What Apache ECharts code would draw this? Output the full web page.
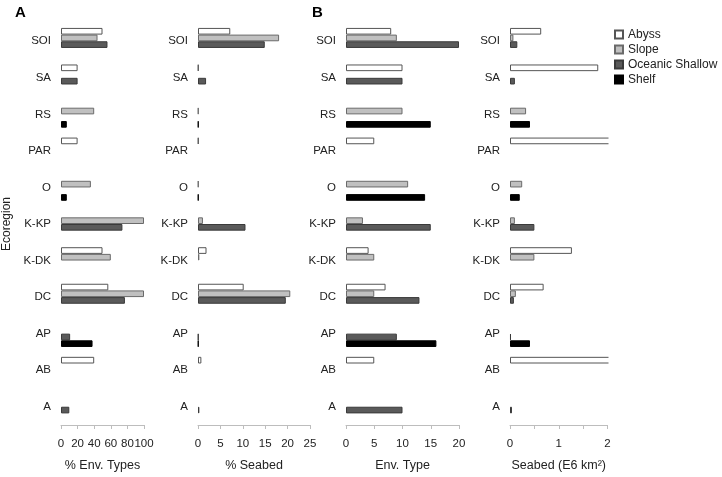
<!DOCTYPE html>
<html><head><meta charset="utf-8">
<script src="https://cdn.jsdelivr.net/npm/echarts@6/dist/echarts.min.js"></script>
<style>html,body{margin:0;padding:0;background:#fff}#c{width:722px;height:477px}</style>
</head><body><div id="c"></div>
<script>
// Categories top to bottom
var categories = ['SOI','SA','RS','PAR','O','K-KP','K-DK','DC','AP','AB','A'];
var seriesNames = ['Abyss','Slope','Oceanic Shallow','Shelf'];

// Panel A1: % Env. Types
var envPctAbyss   = [50, 20, null, 20, null, null, 50, 57, null, 40, null];
var envPctSlope   = [44, null, 40, null, 36, 100, 60, 100, null, null, null];
var envPctOcean   = [56, 20, null, null, null, 74, null, 77, 11, null, 10];
var envPctShelf   = [null, null, 7, null, 7, null, null, null, 38, null, null];

// Panel A2: % Seabed
var seaPctAbyss   = [7.2, 0.1, null, 0.1, null, null, 1.9, 10.2, null, 0.75, null];
var seaPctSlope   = [18.1, null, 0.1, null, 0.1, 1.1, 0.3, 20.6, null, null, null];
var seaPctOcean   = [14.9, 1.8, null, null, null, 10.6, null, 19.6, 0.1, null, 0.3];
var seaPctShelf   = [null, null, 0.1, null, 0.1, null, null, null, 0.1, null, null];

// Panel B1: Env. Type counts
var envCntAbyss   = [8, 10, null, 5, null, null, 4, 7, null, 5, null];
var envCntSlope   = [9, null, 10, null, 11, 3, 5, 5, null, null, null];
var envCntOcean   = [20, 10, null, null, null, 15, null, 13, 9, null, 10];
var envCntShelf   = [null, null, 15, null, 14, null, null, null, 16, null, null];

// Panel B2: Seabed (E6 km2)
var seaAreaAbyss  = [0.64, 1.81, null, 3.0, null, null, 1.27, 0.69, null, 2.6, null];
var seaAreaSlope  = [0.07, null, 0.33, null, 0.25, 0.1, 0.5, 0.12, null, null, null];
var seaAreaOcean  = [0.15, 0.1, null, null, null, 0.5, null, 0.08, 0.02, null, 0.04];
var seaAreaShelf  = [null, null, 0.41, null, 0.2, null, null, null, 0.41, null, null];

var xTicksA1 = {min:0, max:100, interval:20};
var xTicksA2 = {min:0, max:25, interval:5};
var xTicksB1 = {min:0, max:20, interval:5};
var xTicksB2 = {min:0, max:2, interval:0.5};

var fills = ['#ffffff','#c0c0c0','#5a5a5a','#000000'];
var borders = ['#555555','#6a6a6a','#3a3a3a','#000000'];

var panels = [
  {left:61, width:83, ticks:xTicksA1, name:'% Env. Types', data:[envPctAbyss,envPctSlope,envPctOcean,envPctShelf]},
  {left:198, width:112, ticks:xTicksA2, name:'% Seabed', data:[seaPctAbyss,seaPctSlope,seaPctOcean,seaPctShelf]},
  {left:346, width:113, ticks:xTicksB1, name:'Env. Type', data:[envCntAbyss,envCntSlope,envCntOcean,envCntShelf]},
  {left:510, width:97.5, ticks:xTicksB2, name:'Seabed (E6 km\u00B2)', data:[seaAreaAbyss,seaAreaSlope,seaAreaOcean,seaAreaShelf], labelInt:1, open:true}
];

var FONT = 'Liberation Sans, Arial, sans-serif';
var grids=[], xAxes=[], yAxes=[], series=[];
panels.forEach(function(p,i){
  grids.push({left:p.left, width:p.width, top:23, height:403.5});
  xAxes.push({
    type:'value', gridIndex:i, min:p.ticks.min, max:p.ticks.max, interval:p.ticks.interval,
    name:p.name, nameLocation:'middle', nameGap:34,
    nameTextStyle:{fontFamily:FONT, fontSize:12.5, color:'#222'},
    axisLine:{show:true, lineStyle:{color:'#bdbdbd', width:1}},
    axisTick:{show:true, length:4, lineStyle:{color:'#bdbdbd'}},
    splitLine:{show:false},
    axisLabel:{fontFamily:FONT, fontSize:11.5, color:'#222', margin:13, hideOverlap:false,
      interval: p.labelInt ? p.labelInt : 0,
      formatter: p.labelInt ? function(v){ return (Math.abs(v-Math.round(v))<1e-9)? String(Math.round(v)) : ''; } : null}
  });
  yAxes.push({
    type:'category', gridIndex:i, data:categories, inverse:true,
    name: i===0 ? 'Ecoregion' : '', nameLocation:'middle', nameGap:48,
    nameTextStyle:{fontFamily:FONT, fontSize:12, color:'#222'},
    axisLine:{show:false}, axisTick:{show:false},
    axisLabel:{fontFamily:FONT, fontSize:11.5, color:'#222', margin:10}
  });
  p.data.forEach(function(arr,k){
    series.push({
      type:'bar', name:seriesNames[k], xAxisIndex:i, yAxisIndex:i,
      data:arr, barGap:'0%', barCategoryGap:'27%', clip: !p.open,
      itemStyle:{color:fills[k], borderColor:borders[k], borderWidth:1},
      emphasis:{disabled:true}, animation:false
    });
  });
});

var chart = echarts.init(document.getElementById('c'), null, {renderer:'canvas'});
chart.setOption({
  animation:false,
  backgroundColor:'#fff',
  title:[
    {text:'A', left:10, top:0, textStyle:{fontFamily:FONT, fontSize:15, fontWeight:'bold', color:'#000'}},
    {text:'B', left:307, top:0, textStyle:{fontFamily:FONT, fontSize:15, fontWeight:'bold', color:'#000'}}
  ],
  legend:{
    data:seriesNames, orient:'vertical', left:614, top:28, padding:0,
    itemWidth:8, itemHeight:8, itemGap:2, icon:'rect',
    textStyle:{fontFamily:FONT, fontSize:12, color:'#222', lineHeight:13}
  },
  graphic:{elements:[
    {type:'rect', left:608.5, top:100, z:100, shape:{width:113, height:320}, style:{fill:'#fff'}}
  ]},
  grid:grids, xAxis:xAxes, yAxis:yAxes, series:series
});
</script></body></html>
